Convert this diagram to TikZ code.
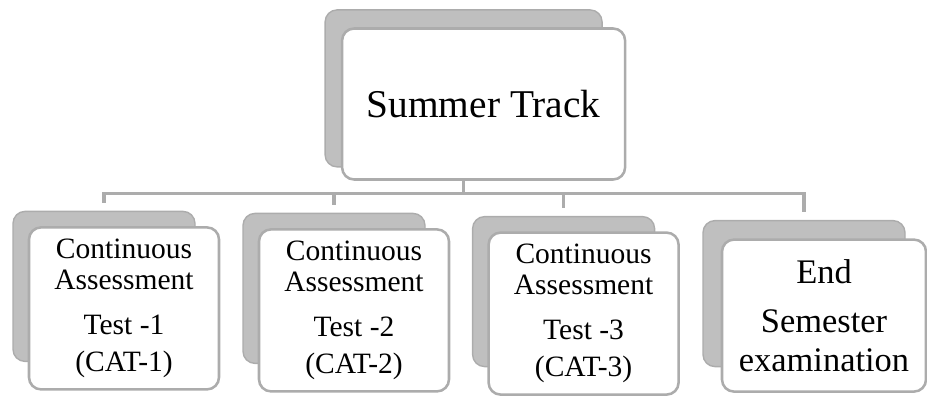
\documentclass[tikz,border=0pt]{standalone}
\usepackage{fontspec}
\setmainfont{Liberation Serif}
\usetikzlibrary{positioning}

\begin{document}
\begin{tikzpicture}[
    backbox/.style={rectangle, rounded corners=0.3cm, draw=gray!65, line width=1pt, fill=gray!50, inner sep=0pt},
    card/.style={rectangle, rounded corners=0.3cm, draw=gray!65, line width=1.8pt, fill=white, align=center, inner sep=0pt},
    link/.style={draw=gray!65, line width=2.6pt},
    cat/.style={font=\fontsize{21}{22}\selectfont}
]
    \useasboundingbox (0,0) rectangle (23.175,9.9);

    \node[backbox, minimum width=6.925cm, minimum height=3.925cm] (stop) at (11.59,7.69) {};
    \node[card, minimum width=7.075cm, minimum height=3.775cm, font=\fontsize{28}{32}\selectfont] (top) at ([shift={(0.5,-0.39)}]stop) {Summer Track};

    \node[backbox, minimum width=4.55cm, minimum height=3.75cm] (s1) at (2.6,2.74) {};
    \node[backbox, minimum width=4.55cm, minimum height=3.75cm] (s2) at (8.35,2.69) {};
    \node[backbox, minimum width=4.55cm, minimum height=3.75cm] (s3) at (14.09,2.61) {};
    \node[backbox, minimum width=5.05cm, minimum height=3.65cm] (s4) at (20.1,2.56) {};

    \node[card, cat, minimum width=4.75cm, minimum height=4.05cm] (c1) at ([shift={(0.5,-0.55)}]s1) {Continuous\\Assessment\\[10pt]Test -1\\[4pt](CAT-1)};
    \node[card, cat, minimum width=4.75cm, minimum height=4.05cm] (c2) at ([shift={(0.5,-0.55)}]s2) {Continuous\\Assessment\\[10pt]Test -2\\[4pt](CAT-2)};
    \node[card, cat, minimum width=4.75cm, minimum height=4.05cm] (c3) at ([shift={(0.5,-0.55)}]s3) {Continuous\\Assessment\\[10pt]Test -3\\[4pt](CAT-3)};
    \node[card, minimum width=5.1cm, minimum height=3.8cm, font=\fontsize{24.5}{28}\selectfont] (c4) at ([shift={(0.5,-0.55)}]s4) {End\\[7pt]Semester\\examination};

    \coordinate[below=0.65cm of stop.south] (bar);
    \draw[link] (top.south -| stop.south) -- (bar);
    \draw[link, shorten <=0.2cm, shorten >=0.2cm] (s1.north) -- (s1.north |- bar) -- (s4.north |- bar) -- (s4.north);
    \foreach \i in {2,3}
        \draw[link, shorten >=0.2cm] (bar -| s\i.north) -- (s\i.north);
\end{tikzpicture}
\end{document}
